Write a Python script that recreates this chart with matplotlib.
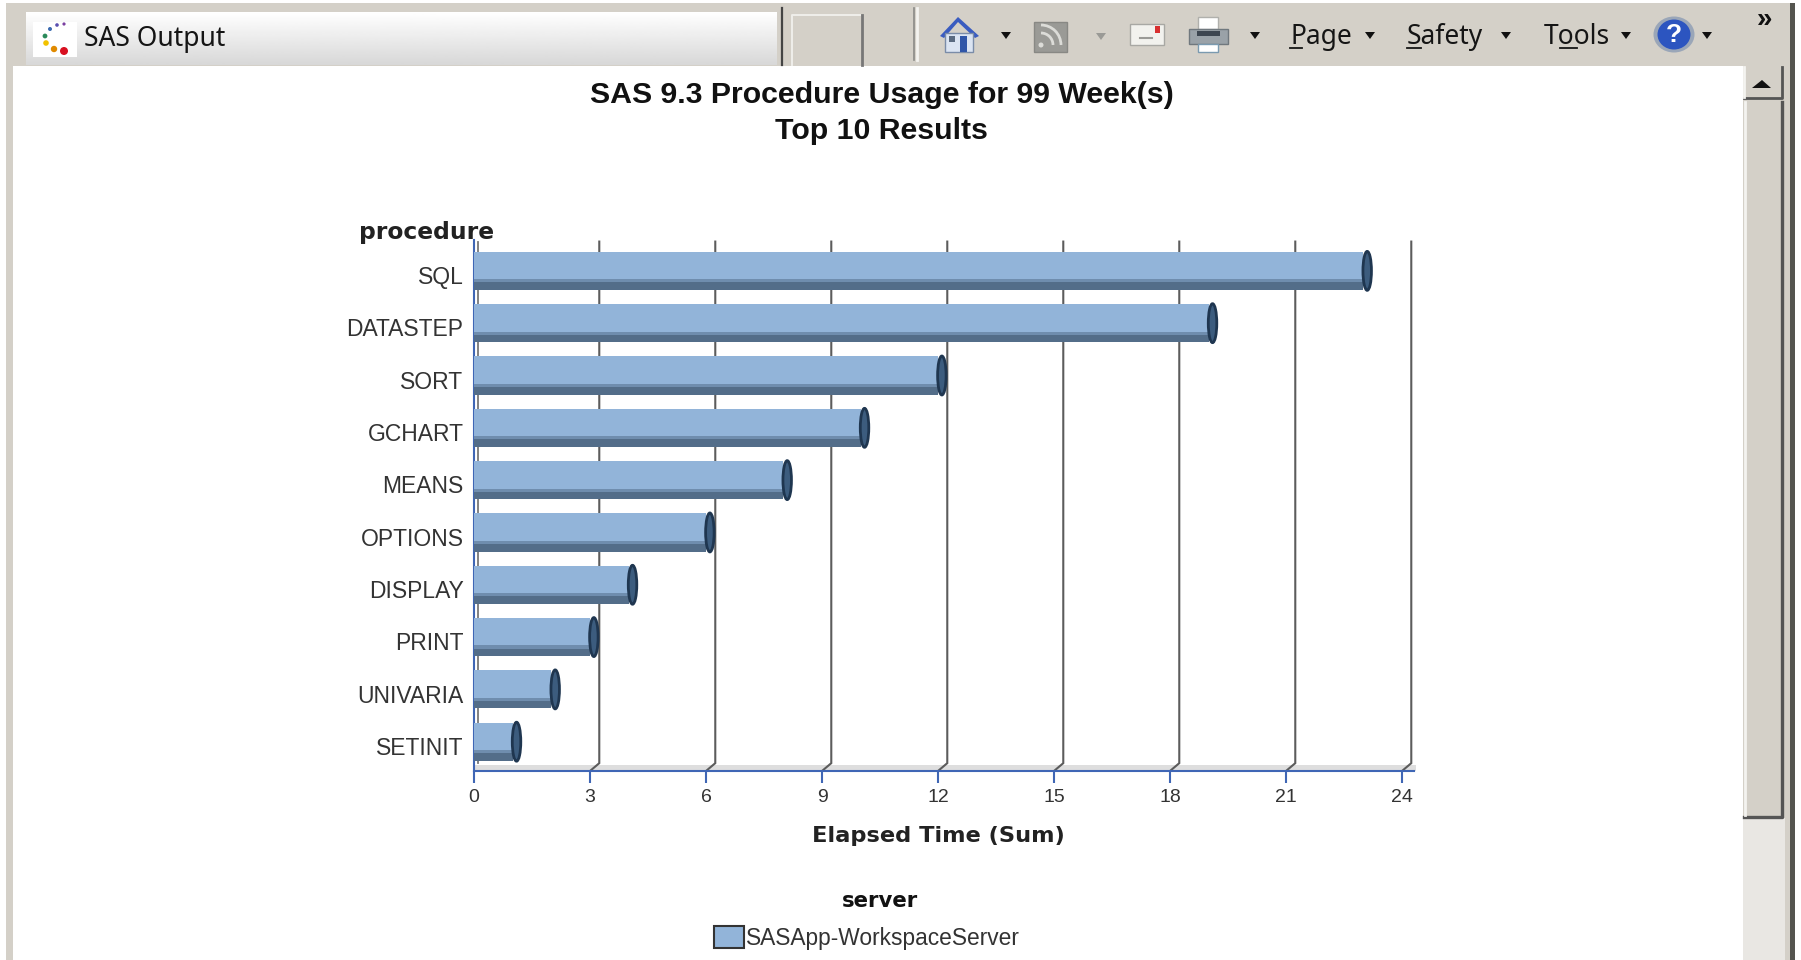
import numpy as np
import matplotlib
matplotlib.use('Agg')
import matplotlib.pyplot as plt
from matplotlib.patches import Rectangle, Ellipse, Polygon, Circle, Arc

procedures = ['SQL', 'DATASTEP', 'SORT', 'GCHART', 'MEANS', 'OPTIONS',
              'DISPLAY', 'PRINT', 'UNIVARIA', 'SETINIT']
elapsed = [23, 19, 12, 10, 8, 6, 4, 3, 2, 1]
x_ticks = [0, 3, 6, 9, 12, 15, 18, 21, 24]
title_text = 'SAS 9.3 Procedure Usage for 99 Week(s)\nTop 10 Results'
legend_name = 'SASApp-WorkspaceServer'

W, H = 1801, 960
BG = '#d4d0c8'
BAR = '#92b4d9'
BAR_MID = '#6f8dae'
BAR_DARK = '#536d89'
CAP = '#1f3650'
BLUE = '#3f66b5'
GRID = '#5c5c5c'


def down_arrow(ax, x, y, color='#111111', size=5):
    ax.add_patch(Polygon([(x - size, y - 3), (x + size, y - 3), (x, y + 4)],
                         color=color, lw=0))


def menu_label(ax, text, x0, under_x0, under_x1):
    ax.text(x0, 37, text, fontsize=19, family='Noto Sans', color='#151515',
            va='center', ha='left')
    ax.plot([under_x0, under_x1], [48, 48], color='#151515', lw=1.3)


def draw_browser(ax):
    ax.add_patch(Rectangle((6, 3), 1789, 957, color=BG, lw=0))
    ax.add_patch(Rectangle((12.5, 65.5), 1730.5, 895, color='white', lw=0))

    # tab with the faded look of the title bar
    grad = np.linspace(1, 0, 64).reshape(-1, 1)
    ax.imshow(grad, extent=(26, 776, 65, 12), cmap='gray', vmin=-5.5, vmax=1,
              aspect='auto', zorder=1)
    ax.plot([782, 782], [8, 65], color='#444444', lw=1.6, zorder=2)
    ax.plot([792, 792, 860], [65, 15, 15], color='#efeeea', lw=1.4, zorder=2)
    ax.plot([862, 862], [15, 65], color='#777777', lw=2, zorder=2)
    ax.plot([914, 914], [8, 60], color='#8a8a86', lw=1.2, zorder=2)
    ax.plot([917, 917], [8, 60], color='#f4f3f0', lw=2, zorder=2)

    # SAS icon
    ax.add_patch(Rectangle((33, 22), 44, 35, color='white', lw=0, zorder=2))
    dots = [(64, 24, 1.6, '#7a3fa0'), (57, 25, 1.8, '#5a4fb0'), (50, 29, 2.0, '#3a6ab0'),
            (45, 36, 2.4, '#2a8a5a'), (46, 43, 2.8, '#f2c200'), (54, 49, 3.2, '#e08a00'),
            (64, 51, 4.0, '#d81020')]
    for dx, dy, dr, dc in dots:
        ax.add_patch(Circle((dx, dy), dr, color=dc, lw=0, zorder=3))
    ax.text(84, 39, 'SAS Output', fontsize=19, family='Noto Sans',
            color='#151515', va='center', zorder=3)

    # home
    ax.add_patch(Polygon([(940, 36), (958, 17), (979, 36), (975, 38), (958, 22), (944, 38)],
                         color='#3a5cc0', lw=0))
    ax.add_patch(Rectangle((945, 33), 28, 19, color='#dbe4f2', ec='#7a8ca8', lw=1))
    ax.add_patch(Rectangle((960, 36), 7, 16, color='#2f55a8', lw=0))
    ax.add_patch(Rectangle((949, 36), 6, 6, color='#5a6a80', lw=0))
    down_arrow(ax, 1006, 35)

    # feed
    ax.add_patch(Rectangle((1034, 22), 33, 30, color='#9a9a96', ec='#888884', lw=1))
    ax.add_patch(Circle((1041, 45), 2.5, color='#dcdcd8', lw=0))
    ax.add_patch(Arc((1041, 45), 24, 24, theta1=270, theta2=360, color='#dcdcd8', lw=2))
    ax.add_patch(Arc((1041, 45), 40, 40, theta1=270, theta2=360, color='#dcdcd8', lw=2))
    down_arrow(ax, 1101, 36, color='#9a9a96')

    # mail
    ax.add_patch(Rectangle((1130, 24), 34, 21, color='#f2f2ee', ec='#a8a8a4', lw=1))
    ax.plot([1140, 1152], [38, 38], color='#9a9a96', lw=1.5)
    ax.add_patch(Rectangle((1155, 26), 5, 7, color='#d83030', lw=0))

    # printer
    ax.add_patch(Rectangle((1198, 17), 20, 12, color='white', ec='#b0b0ac', lw=1))
    ax.add_patch(Rectangle((1189, 29), 39, 15, color='#9aa2a8', ec='#70787e', lw=1))
    ax.add_patch(Rectangle((1197, 31), 23, 5, color='#3d4650', lw=0))
    ax.add_patch(Rectangle((1198, 44), 20, 8, color='white', ec='#7a9ab0', lw=1))
    down_arrow(ax, 1255, 35)

    # menus
    menu_label(ax, 'Page', 1290, 1290, 1302)
    down_arrow(ax, 1370, 35)
    menu_label(ax, 'Safety', 1407, 1407, 1421)
    down_arrow(ax, 1506, 35)
    menu_label(ax, 'Tools', 1544, 1560, 1577)
    down_arrow(ax, 1626, 35)

    # help
    ax.add_patch(Ellipse((1674, 34.5), 41, 36, color='#9aa6b8', lw=0))
    ax.add_patch(Ellipse((1674, 34.5), 33, 30, color='#2c55c0', lw=0))
    ax.text(1674, 35, '?', color='white', fontsize=19, weight='bold', ha='center',
            va='center', family='Liberation Sans')
    down_arrow(ax, 1707, 35)
    ax.text(1764, 20, '\u00bb', color='#111111', fontsize=20, weight='bold', ha='center',
            va='center', family='Liberation Sans')

    # scrollbar
    ax.add_patch(Rectangle((1743, 818), 42, 142, color='#e9e7e3', lw=0))
    ax.add_patch(Rectangle((1743, 67), 40, 32, color=BG, lw=0))
    ax.plot([1744, 1782, 1782], [98, 98, 67], color='#555555', lw=2)
    ax.plot([1744, 1744], [67, 97], color='#f4f3f0', lw=2)
    ax.add_patch(Polygon([(1752, 88), (1771, 88), (1762, 80)], color='#111111', lw=0))
    ax.add_patch(Rectangle((1743, 102), 40, 716, color=BG, lw=0))
    ax.plot([1744, 1782, 1782], [817, 817, 102], color='#555555', lw=2.4)
    ax.plot([1745, 1745], [102, 815], color='#f4f3f0', lw=2)
    ax.add_patch(Rectangle((1790, 3), 5, 957, color='#55554f', lw=0))

    ax.set_xlim(0, W)
    ax.set_ylim(H, 0)


fig = plt.figure(figsize=(W / 100, H / 100), dpi=100, facecolor='white')

chrome = fig.add_axes([0, 0, 1, 1], zorder=0)
chrome.axis('off')
draw_browser(chrome)

# title and the floor of the chart sit in pixel coordinates
chrome.text(881.5, 113, title_text, fontsize=21.8, weight='bold', family='Liberation Sans',
            color='#111111', ha='center', va='center', linespacing=1.33)
chrome.add_patch(Rectangle((474, 765), 942, 6, color='#dedede', lw=0))

# the plot area, 0 at 474 px and 24 at 1402 px, from 240 px to 771 px
ax = fig.add_axes([474 / W, 1 - 771 / H, 928 / W, 531 / H], zorder=1)
ax.patch.set_alpha(0)

y_pos = np.arange(len(procedures))
ax.set_xlim(0, 24)
ax.set_ylim(9.56, -0.59)

# back wall grid is shifted to the right, with a slanted foot
offset = 0.24
for t in x_ticks[1:]:
    ax.plot([t + offset, t + offset, t], [-0.56, 9.41, 9.56], color=GRID, lw=1.5,
            clip_on=False, zorder=1, solid_joinstyle='miter')
ax.plot([0.1, 0.1], [-0.56, 9.41], color='#777777', lw=1.3, zorder=1)

bar_h = 0.73
ax.barh(y_pos, elapsed, height=bar_h, color=BAR, edgecolor='none', zorder=3)
ax.barh(y_pos + bar_h * 0.40, elapsed, height=bar_h * 0.20, color=BAR_DARK,
        edgecolor='none', zorder=4)
ax.barh(y_pos + bar_h * 0.26, elapsed, height=bar_h * 0.08, color=BAR_MID,
        edgecolor='none', zorder=4)
for y, v in zip(y_pos, elapsed):
    ax.add_patch(Ellipse((v + 0.1, y), 0.22, bar_h * 1.02, facecolor='#3c5c7e',
                         edgecolor=CAP, lw=2, zorder=5))
    ax.add_patch(Ellipse((0.02, y), 0.12, bar_h, facecolor=BAR_DARK, edgecolor='none', zorder=2))

ax.set_xticks(x_ticks)
ax.set_yticks(y_pos + 0.08)
ax.set_yticklabels(procedures)
ax.tick_params(axis='x', color=BLUE, length=8.6, width=1.5, pad=4, labelsize=14,
               labelcolor='#333333')
ax.tick_params(axis='y', length=0, pad=7.5, labelsize=16.5, labelcolor='#333333')
for lab in ax.get_xticklabels() + ax.get_yticklabels():
    lab.set_family('Liberation Sans')

for side in ['top', 'right']:
    ax.spines[side].set_visible(False)
ax.spines['bottom'].set_color(BLUE)
ax.spines['left'].set_color(BLUE)
ax.spines['bottom'].set_linewidth(1.5)
ax.spines['left'].set_linewidth(1.5)
ax.spines['bottom'].set_bounds(0, 24.3)

ax.set_xlabel('Elapsed Time (Sum)', fontsize=16.2, weight='bold', color='#222222', labelpad=15)
ax.text(494, 232, 'procedure', transform=chrome.transData, fontsize=16.8, weight='bold',
        color='#222222', ha='right', va='center')
ax.text(880, 901, 'server', transform=chrome.transData, fontsize=15.3, weight='bold',
        color='#111111', ha='center', va='center')

handle = Rectangle((0, 0), 1, 1, facecolor=BAR, edgecolor='#333333', lw=1.5)
leg = ax.legend([handle], [legend_name], frameon=False,
                loc='center', bbox_to_anchor=(867 / W, 1 - 938 / H),
                bbox_transform=fig.transFigure, handlelength=1.3, handleheight=1.1,
                handletextpad=0.12, prop={'family': 'Liberation Sans', 'size': 16.4},
                labelspacing=0, borderpad=0)
for t in leg.get_texts():
    t.set_color('#333333')

fig.savefig('out.png', dpi=100)
